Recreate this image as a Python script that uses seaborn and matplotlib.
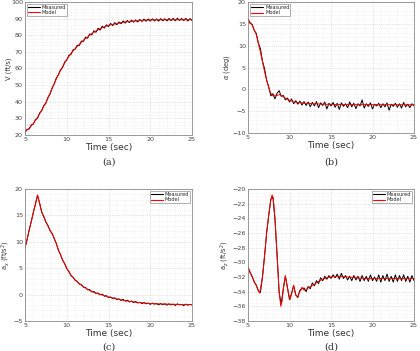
import numpy as np
import pandas as pd
import matplotlib
matplotlib.use("Agg")
import matplotlib.pyplot as plt
from matplotlib.ticker import AutoMinorLocator, MultipleLocator
import seaborn as sns

# ---------------- data ----------------
# (a) airspeed V (ft/s)
t_a_model = [5, 5.5, 6, 6.5, 7, 7.5, 8, 8.5, 9, 9.5, 10, 10.5, 11, 11.5, 12, 12.5, 13, 13.5,
             14, 14.5, 15, 16, 17, 18, 19, 20, 21, 22, 23, 24, 25]
V_model = [22, 24, 27, 30.5, 35, 39.5, 45, 51, 56.5, 61, 65.5, 69, 72, 74.5, 77, 79, 81, 82.5,
           84, 85, 86, 87, 88, 88.5, 89, 89.2, 89.3, 89.3, 89.3, 89.3, 89.3]
V_meas = [21.5, 23.4, 23.6, 26.1, 26.5, 29.3, 30.1, 33.2, 34.6, 37.8,
          39.1, 42.7, 44.6, 48.4, 50.6, 54.3, 56.1, 59.2, 60.5, 63.9,
          65.0, 67.9, 68.4, 71.2, 71.5, 74.0, 73.8, 76.5, 76.3, 78.9,
          78.2, 80.8, 80.2, 82.7, 81.8, 84.2, 83.1, 85.4, 84.3, 86.3,
          85.2, 87.1, 85.8, 87.6, 86.3, 88.0, 86.9, 88.6, 87.3, 88.9,
          87.6, 89.1, 87.9, 89.2, 88.0, 89.5, 88.3, 89.7, 88.4, 89.8,
          88.5, 89.9, 88.6, 89.8, 88.5, 90.0, 88.7, 89.9, 88.6, 90.1,
          88.8, 90.2, 88.7, 90.3, 88.9, 90.1, 88.8, 90.2, 88.6, 90.0,
          88.9]

# (b) angle of attack alpha (deg)
t_b_model = [5, 5.5, 6, 6.5, 7, 7.5, 7.75, 8, 8.5, 8.8, 9, 9.5, 10, 10.5, 11, 12, 13, 14, 15,
             17, 20, 25]
alpha_model = [16, 14.7, 12.5, 8.5, 4.0, 0.3, -0.9, -1.5, -1.4, -1.2, -1.4, -2.0, -2.5, -2.9,
               -3.0, -3.2, -3.3, -3.4, -3.45, -3.5, -3.5, -3.55]
alpha_meas = [16.2, 15.1, 14.9, 13.5, 12.8, 10.6, 9.3, 6.4, 4.7, 2.0,
              0.6, -1.5, -1.0, -2.2, -0.9, -0.3, -1.6, -1.4, -2.4, -2.0,
              -2.9, -2.2, -3.3, -2.6, -3.4, -2.7, -3.6, -2.8, -3.7, -2.9,
              -4.0, -3.0, -3.8, -2.8, -4.2, -3.1, -3.7, -2.9, -4.5, -3.2,
              -3.8, -3.0, -4.1, -3.2, -4.6, -3.1, -3.9, -3.3, -4.2, -2.9,
              -4.0, -3.2, -4.4, -3.3, -3.8, -2.4, -4.3, -3.3, -3.9, -3.1,
              -4.5, -3.4, -3.8, -3.2, -4.2, -3.3, -4.0, -3.1, -4.8, -3.4,
              -3.9, -3.2, -4.1, -3.3, -4.3, -3.0, -4.0, -3.4, -4.2, -3.3,
              -3.8]

# (c) longitudinal acceleration a_x (ft/s^2)
t_c_model = [5, 6.5, 7, 7.5, 8, 8.5, 9, 9.5, 10, 10.5, 11, 11.5, 12, 12.5, 13, 13.5, 14, 14.5,
             15, 16, 17, 18, 19, 20, 21, 22, 23, 24, 25]
ax_model = [8.8, 18.9, 15.7, 13.8, 12.2, 10.7, 8.5, 6.6, 5.0, 3.7, 2.8, 2.1, 1.5, 1.0, 0.6, 0.3,
            0.05, -0.2, -0.45, -0.85, -1.15, -1.4, -1.55, -1.7, -1.75, -1.8, -1.85, -1.9, -1.9]
ax_meas = [8.9, 10.4, 12.3, 13.8, 15.6, 17.1, 18.8, 17.3, 15.6, 14.8,
           13.7, 13.1, 12.1, 11.6, 10.6, 9.7, 8.4, 7.6, 6.5, 5.9,
           4.9, 4.4, 3.6, 3.3, 2.7, 2.5, 2.0, 1.9, 1.4, 1.35,
           0.9, 0.95, 0.5, 0.6, 0.2, 0.3, -0.05, 0.1, -0.3, -0.2,
           -0.55, -0.45, -0.75, -0.6, -0.95, -0.8, -1.1, -0.9, -1.25, -1.05,
           -1.4, -1.2, -1.5, -1.3, -1.6, -1.45, -1.7, -1.5, -1.75, -1.6,
           -1.85, -1.6, -1.8, -1.7, -1.95, -1.7, -1.9, -1.75, -2.0, -1.75,
           -1.95, -1.8, -2.05, -1.75, -1.95, -1.85, -2.1, -1.8, -2.0, -1.85,
           -1.95]

# (d) normal acceleration a_z (ft/s^2)
t_d_model = [5, 5.5, 6, 6.4, 6.75, 7, 7.25, 7.5, 7.75, 7.9, 8.05, 8.25, 8.5, 8.75, 8.95, 9.1,
             9.3, 9.5, 9.75, 10.05, 10.25, 10.5, 10.75, 11.0, 11.25, 11.5, 11.75, 12, 12.5, 13,
             13.5, 14, 14.5, 15, 16, 17, 18, 19, 20, 22, 25]
az_model = [-30.7, -32.0, -33.2, -34.2, -32.0, -29.0, -26.0, -23.5, -21.5, -20.8, -21.3, -24.0,
            -29.0, -34.0, -36.0, -35.3, -33.3, -31.8, -33.5, -35.1, -34.3, -33.1, -34.5, -34.7,
            -34.0, -33.4, -33.8, -33.7, -33.3, -33.0, -32.6, -32.3, -32.1, -32.0, -31.9, -32.0,
            -32.1, -32.2, -32.2, -32.2, -32.2]
az_meas = [-30.6, -31.4, -31.9, -32.7, -33.1, -33.9, -34.1, -31.9, -29.1, -25.9,
           -23.6, -21.4, -21.1, -24.1, -28.9, -34.1, -35.7, -33.6, -31.9, -33.4,
           -35.1, -34.2, -33.2, -34.4, -34.8, -33.8, -33.6, -33.5, -34.0, -33.3,
           -33.6, -32.8, -33.2, -32.5, -32.9, -32.1, -32.5, -31.9, -32.3, -31.8,
           -32.2, -31.7, -32.1, -31.6, -32.3, -31.5, -32.2, -31.8, -32.4, -31.9,
           -32.5, -31.8, -32.4, -31.9, -32.6, -31.8, -32.5, -31.9, -32.6, -31.7,
           -32.5, -32.0, -32.6, -31.7, -32.7, -31.8, -32.5, -31.6, -32.6, -31.9,
           -32.7, -31.7, -32.6, -31.8, -32.5, -31.7, -32.6, -31.9, -32.7, -31.8,
           -32.5]

panels = [
    dict(tm=t_a_model, ym=V_model, ymeas=V_meas, ylabel="V (ft/s)", ylim=(20, 100), major=10,
         minor=5, loc="upper left", cap="(a)", lx=-0.08),
    dict(tm=t_b_model, ym=alpha_model, ymeas=alpha_meas, ylabel=r"$\alpha$ (deg)", ylim=(-10, 20),
         major=5, minor=5, loc="upper left", cap="(b)", lx=-0.095),
    dict(tm=t_c_model, ym=ax_model, ymeas=ax_meas, ylabel=r"a$_x$ (ft/s$^2$)", ylim=(-5, 20),
         major=5, minor=5, loc="upper right", cap="(c)", lx=-0.08),
    dict(tm=t_d_model, ym=az_model, ymeas=az_meas, ylabel=r"a$_z$ (ft/s$^2$)", ylim=(-38, -20),
         major=2, minor=4, loc="upper right", cap="(d)", lx=-0.1),
]

sns.set_theme(style="white")
plt.rcParams['font.family'] = ['DejaVu Sans']

fig = plt.figure(figsize=(4.2, 3.51), dpi=100)
rects = [
    [25 / 420, 1 - 135 / 351, 167 / 420, 133 / 351],
    [248 / 420, 1 - 133 / 351, 166 / 420, 131 / 351],
    [25 / 420, 1 - 321 / 351, 167 / 420, 132 / 351],
    [248 / 420, 1 - 321 / 351, 166 / 420, 132 / 351],
]
cap_pos = [(109, 162), (331, 162), (109, 347), (331, 347)]

for p, r, cp in zip(panels, rects, cap_pos):
    ax = fig.add_axes(r)
    n = len(p["ymeas"])
    t_meas = np.linspace(5, 25, n)
    df = pd.concat([
        pd.DataFrame({"t": t_meas, "y": p["ymeas"], "Series": "Measured"}),
        pd.DataFrame({"t": p["tm"], "y": p["ym"], "Series": "Model"}),
    ], ignore_index=True)
    sns.lineplot(data=df, x="t", y="y", hue="Series", estimator=None, sort=False,
                 palette={"Measured": "black", "Model": "red"}, linewidth=0.7, ax=ax)
    ax.set_xlim(5, 25)
    ax.set_ylim(*p["ylim"])
    ax.xaxis.set_major_locator(MultipleLocator(5))
    ax.xaxis.set_minor_locator(AutoMinorLocator(5))
    ax.yaxis.set_major_locator(MultipleLocator(p["major"]))
    ax.yaxis.set_minor_locator(AutoMinorLocator(p["minor"]))
    ax.grid(which="major", color="#c8c8c8", linestyle=":", linewidth=0.5)
    ax.grid(which="minor", color="#e4e4e4", linestyle=":", linewidth=0.4)
    ax.tick_params(which="both", direction="in", labelsize=4.6, length=2, width=0.4,
                   colors="#444444", pad=1.5)
    ax.tick_params(which="minor", length=0)
    for s in ax.spines.values():
        s.set_color("#8a8a8a")
        s.set_linewidth(0.6)
    ax.set_xlabel("Time (sec)", fontsize=6.5, labelpad=1, color="#333333")
    ax.set_ylabel(p["ylabel"], fontsize=4.8, color="#333333")
    ax.yaxis.set_label_coords(p["lx"], 0.5)
    leg = ax.legend(loc=p["loc"], fontsize=3.6, handlelength=2.4, frameon=True, fancybox=False,
                    borderpad=0.2, labelspacing=0.05, handletextpad=0.4, borderaxespad=0.4)
    leg.get_frame().set_edgecolor("#555555")
    leg.get_frame().set_linewidth(0.4)
    for line in leg.get_lines():
        line.set_linewidth(0.8)
    fig.text(cp[0] / 420, 1 - cp[1] / 351, p["cap"], ha="center", va="center",
             fontsize=7, family="DejaVu Serif", color="#333333")

fig.savefig("out.png", dpi=100)
